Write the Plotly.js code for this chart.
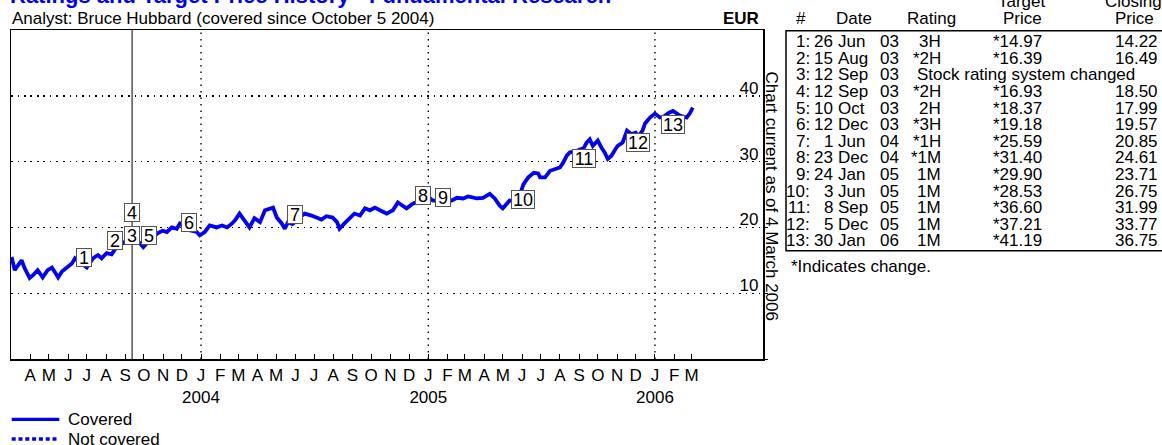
<!DOCTYPE html>
<html><head><meta charset="utf-8">
<script src="https://cdn.plot.ly/plotly-3.0.1.min.js"></script>
<style>html,body{margin:0;padding:0;background:#fff}#chart{width:1162px;height:445px}</style>
</head><body><div id="chart"></div>
<script>
// ---------------- DATA ----------------
const priceDates = [
'2003-03-02','2003-03-07','2003-03-12','2003-03-18','2003-03-23','2003-03-31','2003-04-05','2003-04-13','2003-04-21','2003-04-29',
'2003-05-06','2003-05-11','2003-05-16','2003-05-22','2003-05-30','2003-06-07','2003-06-12','2003-06-19','2003-06-26','2003-07-01',
'2003-07-11','2003-07-19','2003-07-25','2003-08-02','2003-08-10','2003-08-15','2003-08-20','2003-08-28','2003-09-05','2003-09-12',
'2003-09-19','2003-09-24','2003-09-30','2003-10-10','2003-10-17','2003-10-23','2003-10-31','2003-11-07','2003-11-15','2003-11-23',
'2003-11-28','2003-12-05','2003-12-12','2003-12-19','2003-12-25','2003-12-30','2004-01-07','2004-01-15','2004-01-26','2004-02-04',
'2004-02-12','2004-02-20','2004-02-25','2004-03-03','2004-03-11','2004-03-19','2004-03-27','2004-04-05','2004-04-13','2004-04-21',
'2004-04-26','2004-05-02','2004-05-10','2004-05-15','2004-05-20','2004-05-27','2004-06-01','2004-06-07','2004-06-16','2004-06-27',
'2004-07-05','2004-07-13','2004-07-21','2004-07-31','2004-08-07','2004-08-11','2004-08-19','2004-08-27','2004-09-04','2004-09-13',
'2004-09-21','2004-09-29','2004-10-07','2004-10-15','2004-10-26','2004-11-05','2004-11-13','2004-11-16','2004-11-27','2004-12-07',
'2004-12-15','2004-12-23','2005-01-03','2005-01-08','2005-01-17','2005-01-24','2005-02-08','2005-02-16','2005-02-26','2005-03-06',
'2005-03-20','2005-03-30','2005-04-10','2005-04-18','2005-04-26','2005-05-01','2005-05-09','2005-05-12','2005-05-20','2005-05-27',
'2005-06-03','2005-06-11','2005-06-20','2005-06-27','2005-06-30','2005-07-08','2005-07-16','2005-07-24','2005-08-01','2005-08-06',
'2005-08-12','2005-08-17','2005-08-25','2005-09-01','2005-09-08','2005-09-13','2005-09-18','2005-09-23','2005-10-01','2005-10-07',
'2005-10-12','2005-10-17','2005-10-23','2005-10-28','2005-11-02','2005-11-10','2005-11-17','2005-11-24','2005-12-01','2005-12-05',
'2005-12-12','2005-12-16','2005-12-24','2006-01-01','2006-01-09','2006-01-16','2006-01-23','2006-01-30','2006-02-10','2006-02-21',
'2006-02-26','2006-03-03'];
const priceValues = [
15.5,13.5,14.2,15.0,13.8,12.3,12.7,13.5,12.4,13.5,
13.9,13.2,12.4,13.3,13.9,14.5,15.3,14.8,14.2,13.9,
15.3,15.8,15.3,16.1,15.9,16.5,17.3,17.6,18.0,18.5,
18.2,17.6,17.0,18.0,18.6,19.1,19.5,19.3,20.0,19.8,
20.6,20.3,19.6,19.4,19.3,18.8,19.3,20.3,20.0,20.3,
20.0,20.6,21.1,22.1,21.1,20.0,21.4,20.8,22.6,22.9,
23.0,21.5,20.6,19.8,20.8,20.5,20.85,21.5,22.1,21.8,
21.5,21.2,21.7,21.5,20.8,19.8,20.6,21.4,22.1,21.8,
22.9,22.6,23.0,22.6,22.1,22.6,23.8,23.6,22.9,23.6,
23.9,24.6,24.5,24.1,24.0,23.7,24.1,24.5,24.4,24.7,
24.4,24.5,25.1,24.4,23.3,22.9,23.8,24.1,24.0,24.5,
26.5,27.6,28.3,28.2,27.6,27.6,28.6,28.9,29.1,29.8,
30.9,31.4,31.5,31.8,32.0,32.9,33.4,32.4,33.2,32.1,
31.4,30.4,30.9,31.7,32.4,32.9,34.7,34.2,34.4,33.8,
34.7,35.8,36.7,37.3,36.7,36.9,37.4,37.7,37.0,36.7,
37.3,38.2];

// rating history table
const eventNum     = [1,2,3,4,5,6,7,8,9,10,11,12,13];
const eventDay     = [26,15,12,12,10,12,1,23,24,3,8,5,30];
const eventMonth   = ['Jun','Aug','Sep','Sep','Oct','Dec','Jun','Dec','Jan','Jun','Sep','Dec','Jan'];
const eventYear    = ['03','03','03','03','03','03','04','04','05','05','05','05','06'];
const eventRating  = ['3H','*2H','','*2H','2H','*3H','*1H','*1M','1M','1M','1M','1M','1M'];
const eventTarget  = ['*14.97','*16.39','','*16.93','*18.37','*19.18','*25.59','*31.40','*29.90','*28.53','*36.60','*37.21','*41.19'];
const eventClosing = ['14.22','16.49','','18.50','17.99','19.57','20.85','24.61','23.71','26.75','31.99','33.77','36.75'];
const eventNote    = ['','','Stock rating system changed','','','','','','','','','',''];
// vertical level (EUR) at which each numbered flag is drawn on the chart
const flagLevel    = [15.4,18.0,18.7,22.3,18.7,20.8,22.0,24.8,24.5,24.3,30.4,32.9,35.7];

const yTicks = [0,10,20,30,40];
const monthLetters = ['J','F','M','A','M','J','J','A','S','O','N','D'];
const gridYears = ['2004','2005','2006'];

const titleText = 'Ratings and Target Price History - Fundamental Research';
const subtitleText = 'Analyst: Bruce Hubbard (covered since October 5 2004)';
const currencyText = 'EUR';
const asOfText = 'Chart current as of 4 March 2006';
const footnoteText = '*Indicates change.';
const legendNames = ['Covered','Not covered'];

// ---------------- BUILD ----------------
const FONT = '"Liberation Sans", Arial, Helvetica, sans-serif';
const L = 11, R = 763, T = 30, B = 359, W = 1162, H = 445;
const px = x => (x - L) / (R - L);
const py = y => (B - y) / (B - T);
const MI = {Jan:'01',Feb:'02',Mar:'03',Apr:'04',May:'05',Jun:'06',Jul:'07',Aug:'08',Sep:'09',Oct:'10',Nov:'11',Dec:'12'};
const eventISO = eventNum.map((n,i) => '20' + eventYear[i] + '-' + MI[eventMonth[i]] + '-' + String(eventDay[i]).padStart(2,'0'));

// month ticks Apr 2003 .. Mar 2006
const tickvals = [], ticktext = [];
for (let y = 2003, m = 3; y < 2006 || (y === 2006 && m <= 2); ) {
  tickvals.push(y + '-' + String(m+1).padStart(2,'0') + '-01');
  ticktext.push(m === 0 ? monthLetters[m] + '<br>' + y : monthLetters[m]);
  m++; if (m > 11) { m = 0; y++; }
}

const traces = [{
  type:'scatter', mode:'lines', x: priceDates, y: priceValues,
  line:{color:'#0000ff', width:3.8}, hoverinfo:'skip', showlegend:false
}];

const shapes = [];
const annotations = [];
// year gridlines
gridYears.forEach(yr => shapes.push({type:'line', xref:'x', yref:'paper', x0: yr+'-01-01', x1: yr+'-01-01', y0:0, y1:1,
  line:{color:'#000', width:1.4, dash:'1.5px,5px'}, layer:'below'}));
// rating system change line
eventNote.forEach((n,i) => { if (n) shapes.push({type:'line', xref:'x', yref:'paper', x0: eventISO[i], x1: eventISO[i], y0:0, y1:1,
  line:{color:'#000', width:1}, layer:'below'}); });
// numbered flags
eventNum.forEach((n,i) => {
  const w = String(n).length > 1 ? 22 : 14;
  annotations.push({text:String(n), xref:'x', yref:'y', x: eventISO[i], y: flagLevel[i], showarrow:false,
    xanchor:'center', yanchor:'middle', width:w, height:17, align:'center', valign:'middle',
    bgcolor:'#fff', bordercolor:'#555', borderwidth:1, borderpad:0,
    font:{family:FONT, size:18, color:'#000'}});
});

function txt(text, x, y, opts) {
  annotations.push(Object.assign({text, xref:'paper', yref:'paper', x: px(x), y: py(y), showarrow:false,
    xanchor:'left', yanchor:'middle', borderpad:0, borderwidth:0,
    font:{family:FONT, size:17, color:'#000'}}, opts || {}));
}
// titles
txt('<b>' + titleText + '</b>', 10, 8, {yanchor:'bottom', font:{family:FONT, size:22, color:'#0000ff'}});
txt(subtitleText, 12, 18.3);
txt('<b>' + currencyText + '</b>', 759, 18.3, {xanchor:'right'});
txt(asOfText, 771.5, 196, {xanchor:'center', textangle:90});
// table header
txt('#', 801, 18.3, {xanchor:'center'});
txt('Date', 854, 18.3, {xanchor:'center'});
txt('Rating', 931, 18.3, {xanchor:'center'});
txt('Target', 1022, 1.7, {xanchor:'center'});
txt('Price', 1022, 18.3, {xanchor:'center'});
txt('Closing', 1133, 1.7, {xanchor:'center'});
txt('Price', 1134, 18.3, {xanchor:'center'});
// table rows
eventNum.forEach((n,i) => {
  const y = 41.7 + 16.6 * i;
  txt(n + ':', 810, y, {xanchor:'right'});
  txt(String(eventDay[i]), 833, y, {xanchor:'right'});
  txt(eventMonth[i], 838, y);
  txt(eventYear[i], 899, y, {xanchor:'right'});
  if (eventNote[i]) {
    txt(eventNote[i], 917, y);
  } else {
    txt(eventRating[i], 941, y, {xanchor:'right'});
    txt(eventTarget[i], 1042, y, {xanchor:'right'});
    txt(eventClosing[i], 1158, y, {xanchor:'right'});
  }
});
shapes.push({type:'rect', xref:'paper', yref:'paper', x0: px(786), x1: px(1180), y0: py(250.7), y1: py(30.7),
  line:{color:'#000', width:1.5}, fillcolor:'rgba(0,0,0,0)', layer:'above'});
txt(footnoteText, 791, 266.7);
// legend
shapes.push({type:'line', xref:'paper', yref:'paper', x0: px(11.7), x1: px(59.3), y0: py(419.3), y1: py(419.3),
  line:{color:'#0000ff', width:3.3}});
shapes.push({type:'line', xref:'paper', yref:'paper', x0: px(11.7), x1: px(59.3), y0: py(439), y1: py(439),
  line:{color:'#0000ff', width:3.3, dash:'4px,2.8px'}});
txt(legendNames[0], 68, 419.3);
txt(legendNames[1], 68, 439);

const layout = {
  width:W, height:H, margin:{l:L, r:W-R, t:T, b:H-B, pad:0},
  paper_bgcolor:'#fff', plot_bgcolor:'#fff', showlegend:false,
  font:{family:FONT, size:17, color:'#000'},
  xaxis:{type:'date', range:['2003-03-01','2006-06-24'], tickmode:'array', tickvals, ticktext,
    ticks:'inside', ticklen:5, tickwidth:1, tickcolor:'#000', showgrid:false, zeroline:false,
    showline:true, linecolor:'#000', linewidth:1.5, mirror:true, tickangle:0,
    tickfont:{family:FONT, size:17, color:'#000'}, fixedrange:true},
  yaxis:{side:'right', range:[0,50], tickmode:'array', tickvals:yTicks, ticktext:yTicks.map(String),
    ticklabelposition:'inside', ticks:'outside', ticklen:3, tickcolor:'#000',
    showgrid:true, gridcolor:'#000', gridwidth:1.4, griddash:'1.5px,5px', zeroline:false,
    showline:true, linecolor:'#000', linewidth:1.5, mirror:true, ticklabelshift:-8, ticklabelstandoff:5,
    tickfont:{family:FONT, size:17, color:'#000'}, fixedrange:true},
  shapes, annotations
};
Plotly.newPlot('chart', traces, layout, {displayModeBar:false, staticPlot:true});
</script></body></html>
